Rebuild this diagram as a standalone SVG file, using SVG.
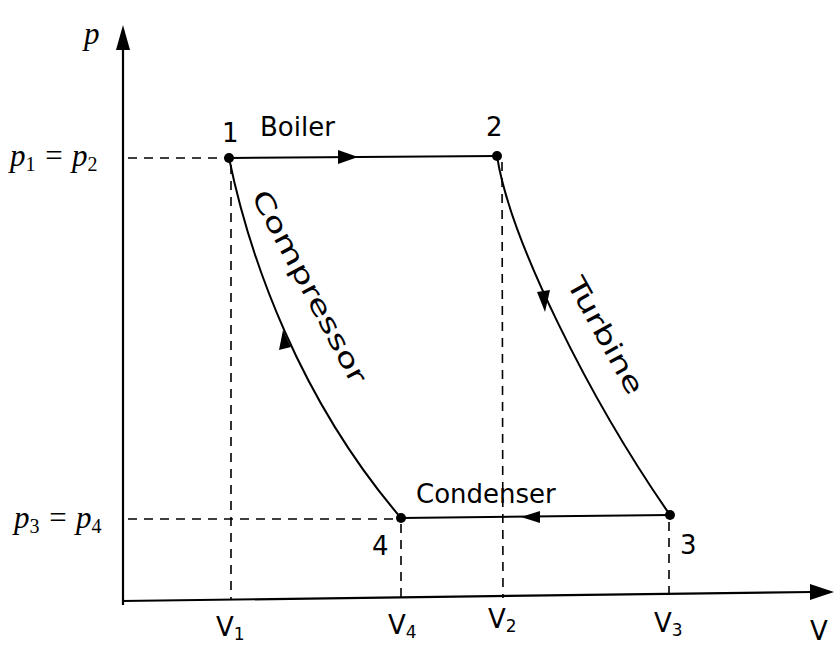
<svg xmlns="http://www.w3.org/2000/svg" width="836" height="648" viewBox="0 0 836 648">
<style>
.ax{stroke:#000;stroke-width:2.2;fill:none}
.cy{stroke:#000;stroke-width:2;fill:none}
.ds{stroke:#000;stroke-width:1.6;stroke-dasharray:9 7;fill:none}
.hand{font-family:"DejaVu Sans","Liberation Sans",sans-serif;font-size:26px;fill:#000}
.math{font-family:"Liberation Serif",serif;font-style:italic;font-size:31px;fill:#000}
.sub{font-family:"Liberation Serif",serif;font-style:normal;font-size:20px}
.pt{fill:#000}
</style>
<rect width="836" height="648" fill="#fff"/>
<g id="axes">
<path class="ax" d="M123,605 L123,30"/>
<path d="M116,50 L123,25 L130,50 z" fill="#000"/>
<path class="ax" d="M122,601 L812,592"/>
<path d="M810,584 L834,592 L810,600 z" fill="#000"/>
<text class="math" x="84" y="44">p</text>
<text class="math" x="10" y="166">p<tspan class="sub" dy="5">1</tspan><tspan dy="-5"> = p</tspan><tspan class="sub" dy="5">2</tspan></text>
<text class="math" x="14" y="528">p<tspan class="sub" dy="5">3</tspan><tspan dy="-5"> = p</tspan><tspan class="sub" dy="5">4</tspan></text>
<text class="hand" x="216" y="636">V<tspan font-size="17" dy="4">1</tspan></text>
<text class="hand" x="388" y="634">V<tspan font-size="17" dy="4">4</tspan></text>
<text class="hand" x="488" y="628">V<tspan font-size="17" dy="4">2</tspan></text>
<text class="hand" x="654" y="632">V<tspan font-size="17" dy="4">3</tspan></text>
<text class="hand" x="810" y="640">V</text>
</g>
<g id="guides">
<path class="ds" d="M128,158 L228,158"/>
<path class="ds" d="M128,519 L400,519"/>
<path class="ds" d="M231,165 L231,600"/>
<path class="ds" d="M401,524 L401,600"/>
<path class="ds" d="M502,162 L503,598"/>
<path class="ds" d="M669,522 L669,596"/>
</g>
<g id="connectors">
<path id="boiler" class="cy" d="M229,158 L497,156"/>
<path d="M338,150 L358,157 L338,164 z" fill="#000"/>
<path id="turbine" class="cy" d="M497,156 C510,240 590,400 670,515"/>
<path d="M537,292 L545,312 L550,290 z" fill="#000"/>
<path id="condenser" class="cy" d="M670,515 L401,518"/>
<path d="M540,511 L521,517 L540,523 z" fill="#000"/>
<path id="compressor" class="cy" d="M401,518 C300,400 250,260 229,158"/>
<path d="M279,350 L283,330 L291,347 z" fill="#000"/>
</g>
<g id="state1"><circle class="pt" cx="229" cy="158" r="5"/><text class="hand" x="222" y="142">1</text></g>
<g id="state2"><circle class="pt" cx="497" cy="156" r="5"/><text class="hand" x="486" y="136">2</text></g>
<g id="state3"><circle class="pt" cx="670" cy="515" r="5"/><text class="hand" x="680" y="554" font-size="32">3</text></g>
<g id="state4"><circle class="pt" cx="401" cy="518" r="5"/><text class="hand" x="372" y="555" font-size="32">4</text></g>
<g id="labels">
<text class="hand" x="260" y="136">Boiler</text>
<text class="hand" x="416" y="503">Condenser</text>
<text class="hand" transform="translate(251,196) rotate(62)" font-size="27" textLength="215" lengthAdjust="spacingAndGlyphs">Compressor</text>
<text class="hand" transform="translate(566,283) rotate(61)" textLength="130" lengthAdjust="spacingAndGlyphs">Turbine</text>
</g>
</svg>
